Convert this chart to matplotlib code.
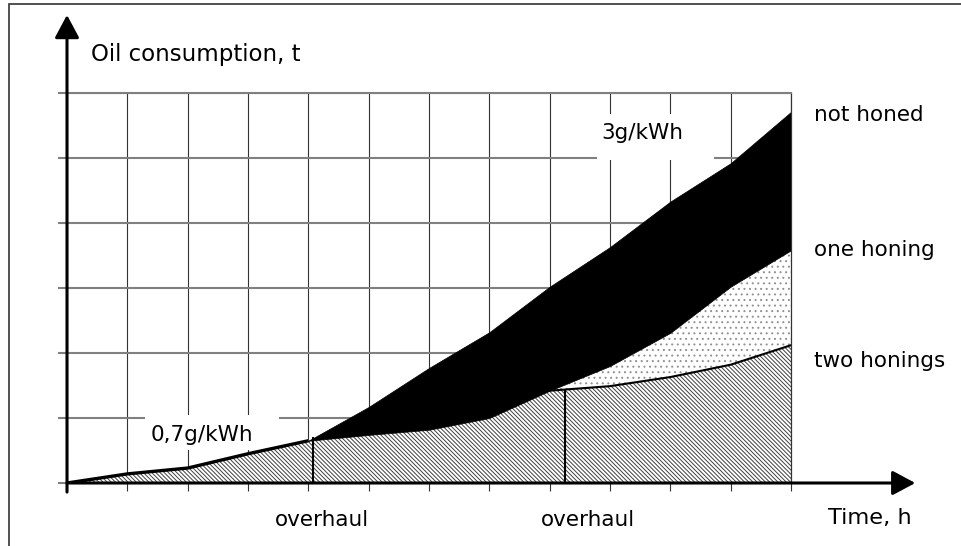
import matplotlib
matplotlib.use("Agg")
import matplotlib.pyplot as plt
from matplotlib.patches import Rectangle

# ---- data (grid units) ----
time_h = [0, 1, 2, 3, 4, 5, 6, 7, 8, 9, 10, 11, 12]
two_honings = [0, 0.14, 0.23, 0.45, 0.65, 0.74, 0.82, 1.00, 1.42, 1.49, 1.63, 1.82, 2.12]
one_honing = [0, 0.14, 0.23, 0.45, 0.65, 0.74, 0.82, 1.00, 1.42, 1.80, 2.31, 3.02, 3.58]
not_honed = [0, 0.14, 0.23, 0.45, 0.65, 1.17, 1.77, 2.32, 3.02, 3.63, 4.33, 4.92, 5.71]
overhaul_x = [4.08, 8.25]
overhaul_top = [0.71, 1.43]
series_labels = ["not honed", "one honing", "two honings"]
rate_labels = ["0,7g/kWh", "3g/kWh"]
y_label = "Oil consumption, t"
x_label = "Time, h"
event_label = "overhaul"

plt.rcParams["font.family"] = ["DejaVu Sans"]
plt.rcParams["hatch.linewidth"] = 0.7

fig = plt.figure(figsize=(9.62, 5.46), dpi=100)
ax = fig.add_axes([67 / 962, 63 / 546, 724 / 962, 390 / 546])
ax.set_xlim(0, 12)
ax.set_ylim(0, 6)
ax.set_axisbelow(True)
ax.set_xticks(time_h)
ax.set_yticks(range(7))
ax.set_xticklabels([])
ax.set_yticklabels([])
ax.tick_params(axis="x", length=5.5, width=0.8, color="#333333", direction="out")
ax.tick_params(axis="y", length=6.5, width=1.5, color="#808080", direction="out")
ax.grid(axis="x", color="#333333", lw=0.8)
ax.grid(axis="y", color="#808080", lw=1.5)
ax.spines["left"].set_visible(False)
ax.spines["bottom"].set_visible(False)
ax.spines["right"].set_color("#333333")
ax.spines["right"].set_linewidth(0.9)
ax.spines["top"].set_color("#808080")
ax.spines["top"].set_linewidth(1.5)

# fills
ax.fill_between(time_h, 0, two_honings, facecolor="white", edgecolor="#404040",
                hatch="\\" * 8, linewidth=0, zorder=1)
ax.fill_between(time_h, two_honings, one_honing, facecolor="white", edgecolor="#909090",
                hatch="...", linewidth=0, zorder=1)
ax.fill_between(time_h, one_honing, not_honed, facecolor="black", edgecolor="black",
                linewidth=0.5, zorder=1.1)

# lines
ax.plot(time_h[:5], two_honings[:5], color="black", lw=2.4, zorder=2, solid_capstyle="butt")
ax.plot(time_h[8:], two_honings[8:], color="black", lw=1.5, zorder=2)
ax.vlines(overhaul_x, 0, overhaul_top, color="black", lw=1.5, zorder=2)

# label boxes (white, hide the grid)
ax.add_patch(Rectangle((1.293, 0.508), 2.221, 0.538, facecolor="white", edgecolor="none", zorder=0.7))
ax.add_patch(Rectangle((8.785, 4.97), 1.94, 0.71, facecolor="white", edgecolor="none", zorder=0.7))

fs = 15.5
ax.text(1.386, 0.646, rate_labels[0], fontsize=fs, ha="left", va="baseline", zorder=0.8)
ax.text(8.86, 5.29, rate_labels[1], fontsize=fs, ha="left", va="baseline", zorder=0.8)
ax.text(0.40, 6.50, y_label, fontsize=16.5, ha="left", va="baseline", clip_on=False)
ax.text(12.38, 5.57, series_labels[0], fontsize=fs, ha="left", va="baseline", clip_on=False)
ax.text(12.38, 3.485, series_labels[1], fontsize=fs, ha="left", va="baseline", clip_on=False)
ax.text(12.38, 1.785, series_labels[2], fontsize=fs, ha="left", va="baseline", clip_on=False)
for xo in [4.22, 8.636]:
    ax.text(xo, -0.669, event_label, fontsize=fs, ha="center", va="baseline", clip_on=False)
ax.text(12.61, -0.63, x_label, fontsize=16.2, ha="left", va="baseline", clip_on=False)

# axes arrows
arrow_kw = dict(arrowstyle="-|>,head_length=14,head_width=7.5", mutation_scale=1,
                lw=2.2, color="black", shrinkA=0, shrinkB=0)
a1 = ax.annotate("", xy=(0, 7.2), xytext=(0, -0.14), arrowprops=arrow_kw,
                 annotation_clip=False, zorder=4)
a2 = ax.annotate("", xy=(14.06, 0), xytext=(0, 0), arrowprops=arrow_kw,
                 annotation_clip=False, zorder=4)
for a in (a1, a2):
    a.set_clip_on(False)
    a.arrow_patch.set_clip_on(False)

# outer frame
fig.add_artist(Rectangle((9 / 962, -0.5), 2, 542 / 546 + 0.5, transform=fig.transFigure,
                         fill=False, edgecolor="#333333", lw=1.2))

fig.savefig("out.png", dpi=100)
